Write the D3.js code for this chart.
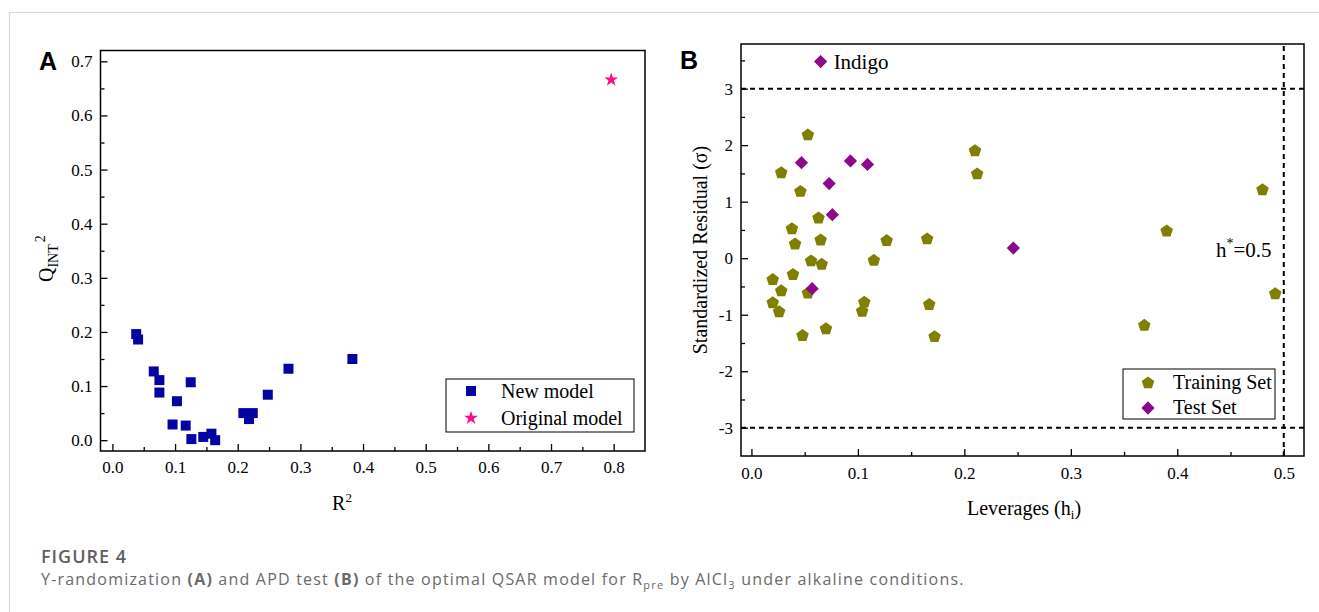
<!DOCTYPE html>
<html>
<head>
<meta charset="utf-8">
<script src="https://cdn.jsdelivr.net/npm/d3@7"></script>
<style>
  body { margin: 0; background: #fff; }
  .tk text { font-family: "Liberation Serif", "Times New Roman", serif; }
</style>
</head>
<body>
<svg id="fig" width="1319" height="612"></svg>
<script>
// panel A: Y-randomization
const newR2 = [0.038, 0.041, 0.066, 0.075, 0.075, 0.125, 0.103, 0.096, 0.117, 0.126, 0.145, 0.158, 0.164, 0.209, 0.224, 0.218, 0.248, 0.281, 0.383]
const newQ2 = [0.196, 0.186, 0.127, 0.111, 0.088, 0.107, 0.072, 0.029, 0.027, 0.002, 0.006, 0.012, 0.000, 0.050, 0.050, 0.039, 0.084, 0.132, 0.150]
const origR2 = [0.796]
const origQ2 = [0.666]
const xTicksA = [0, 0.1, 0.2, 0.3, 0.4, 0.5, 0.6, 0.7, 0.8]
const yTicksA = [0, 0.1, 0.2, 0.3, 0.4, 0.5, 0.6, 0.7]

// panel B: applicability domain
const trainH = [0.053, 0.028, 0.046, 0.063, 0.038, 0.041, 0.065, 0.056, 0.066, 0.039, 0.020, 0.028, 0.053, 0.020, 0.026, 0.048, 0.070, 0.127, 0.115, 0.106, 0.104, 0.165, 0.167, 0.172, 0.210, 0.212, 0.369, 0.390, 0.480, 0.492]
const trainRes = [2.18, 1.51, 1.18, 0.71, 0.52, 0.25, 0.32, -0.05, -0.11, -0.29, -0.38, -0.58, -0.62, -0.79, -0.95, -1.37, -1.25, 0.31, -0.04, -0.78, -0.94, 0.34, -0.82, -1.39, 1.90, 1.49, -1.19, 0.48, 1.21, -0.63]
const testH = [0.065, 0.047, 0.093, 0.109, 0.073, 0.076, 0.246, 0.057]
const testRes = [3.48, 1.69, 1.72, 1.66, 1.32, 0.77, 0.18, -0.54]
const xTicksB = [0, 0.1, 0.2, 0.3, 0.4, 0.5]
const yTicksB = [-3, -2, -1, 0, 1, 2, 3]
const hStar = 0.5
const resLimits = [3, -3]

const serif = '"Liberation Serif", "Times New Roman", serif'
const sans = '"Liberation Sans", Arial, sans-serif'
const svg = d3.select('#fig').attr('font-family', serif)

// card border
svg.append('path').attr('d', 'M9.5,612V12.5H1319').attr('fill', 'none').attr('stroke', '#d9d9d9').attr('stroke-width', 1.2)

function pentagon(r) {
  const p = d3.path()
  for (let i = 0; i < 5; i++) {
    const a = -Math.PI / 2 + i * 2 * Math.PI / 5
    i ? p.lineTo(r * Math.cos(a), r * Math.sin(a)) : p.moveTo(r * Math.cos(a), r * Math.sin(a))
  }
  p.closePath()
  return p.toString()
}
const squarePath = d3.symbol(d3.symbolSquare, 100)()
const starPath = d3.symbol(d3.symbolStar, 60)()
const diamondPath = d3.symbol(d3.symbolSquare, 88)()
const pentPath = pentagon(6.6)

function frame(g, x, y, xTicks, xMinor, yTicks, yMinor, fmtX, fmtY, xPad) {
  const [x0, x1] = x.range(), [y0, y1] = y.range()
  const ax = g.append('g').attr('transform', `translate(0,${y0})`)
    .call(d3.axisBottom(x).tickValues(xTicks).tickSizeInner(-7).tickSizeOuter(0).tickPadding(xPad).tickFormat(fmtX))
  const axm = g.append('g').attr('transform', `translate(0,${y0})`)
    .call(d3.axisBottom(x).tickValues(xMinor).tickSizeInner(-4).tickSizeOuter(0).tickFormat(''))
  const ay = g.append('g').attr('transform', `translate(${x0},0)`)
    .call(d3.axisLeft(y).tickValues(yTicks).tickSizeInner(-7).tickSizeOuter(0).tickPadding(8).tickFormat(fmtY))
  const aym = g.append('g').attr('transform', `translate(${x0},0)`)
    .call(d3.axisLeft(y).tickValues(yMinor).tickSizeInner(-4).tickSizeOuter(0).tickFormat(''))
  ;[ax, axm, ay, aym].forEach(a => {
    a.attr('class', 'tk').attr('font-family', serif).attr('font-size', 17)
    a.select('.domain').remove()
    a.selectAll('line').attr('stroke', '#000').attr('stroke-width', 1.3)
    a.selectAll('text').attr('font-family', serif).attr('fill', '#000')
  })
  g.append('rect').attr('x', x0).attr('y', y1).attr('width', x1 - x0).attr('height', y0 - y1)
    .attr('fill', 'none').attr('stroke', '#000').attr('stroke-width', 1.5)
}

// ---------- panel A ----------
const xA = d3.scaleLinear().domain([-0.019, 0.85]).range([100.5, 645])
const yA = d3.scaleLinear().domain([-0.02, 0.72]).range([451, 50.5])
const gA = svg.append('g')
frame(gA, xA, yA, xTicksA, d3.range(0.05, 0.85, 0.1), yTicksA, d3.range(0.05, 0.71, 0.1),
  d3.format('.1f'), d3.format('.1f'), 10)

gA.selectAll('.sq').data(newR2).enter().append('path').attr('class', 'sq')
  .attr('d', squarePath).attr('fill', '#0404a2')
  .attr('transform', (d, i) => `translate(${xA(d)},${yA(newQ2[i])})`)
gA.selectAll('.st').data(origR2).enter().append('path').attr('class', 'st')
  .attr('d', starPath).attr('fill', '#ff0a88')
  .attr('transform', (d, i) => `translate(${xA(d)},${yA(origQ2[i])})`)

gA.append('rect').attr('x', 446).attr('y', 379).attr('width', 188).attr('height', 53)
  .attr('fill', '#fff').attr('stroke', '#000').attr('stroke-width', 1)
gA.append('path').attr('d', squarePath).attr('fill', '#0404a2').attr('transform', 'translate(471,391)')
gA.append('path').attr('d', starPath).attr('fill', '#ff0a88').attr('transform', 'translate(471,418)')
gA.append('text').attr('x', 501).attr('y', 398).attr('font-size', 20).text('New model')
gA.append('text').attr('x', 501).attr('y', 425).attr('font-size', 20).text('Original model')

gA.append('text').attr('x', 342).attr('y', 510).attr('text-anchor', 'middle').attr('font-size', 20)
  .html('R<tspan font-size="13" dy="-8">2</tspan>')
gA.append('text').attr('transform', 'translate(53,282) rotate(-90)').attr('font-size', 20)
  .html('Q<tspan font-size="14" dy="5">INT</tspan><tspan font-size="14" dy="-13" dx="2">2</tspan>')
gA.append('text').attr('x', 39).attr('y', 70).attr('font-family', sans)
  .attr('font-weight', 'bold').attr('font-size', 25).text('A')

// ---------- panel B ----------
const xB = d3.scaleLinear().domain([-0.0098, 0.519]).range([741, 1304])
const yB = d3.scaleLinear().domain([-3.5, 3.79]).range([456, 44])
const gB = svg.append('g')
frame(gB, xB, yB, xTicksB, d3.range(0.05, 0.52, 0.1), yTicksB, d3.range(-2.5, 3.6, 1),
  d3.format('.1f'), d => String(d), 11)

gB.selectAll('.lim').data(resLimits).enter().append('line').attr('class', 'lim')
  .attr('x1', xB.range()[0]).attr('x2', xB.range()[1]).attr('y1', d => yB(d)).attr('y2', d => yB(d))
  .attr('stroke', '#000').attr('stroke-width', 2).attr('stroke-dasharray', '5,4')
gB.append('line').attr('x1', xB(hStar)).attr('x2', xB(hStar)).attr('y1', yB.range()[0]).attr('y2', yB.range()[1])
  .attr('stroke', '#000').attr('stroke-width', 2).attr('stroke-dasharray', '5,4')

gB.selectAll('.tr').data(trainH).enter().append('path').attr('class', 'tr')
  .attr('d', pentPath).attr('fill', '#808000')
  .attr('transform', (d, i) => `translate(${xB(d)},${yB(trainRes[i])})`)
gB.selectAll('.te').data(testH).enter().append('path').attr('class', 'te')
  .attr('d', diamondPath).attr('fill', '#8b0a8b')
  .attr('transform', (d, i) => `translate(${xB(d)},${yB(testRes[i])}) rotate(45)`)

gB.append('text').attr('x', xB(testH[0]) + 13).attr('y', yB(testRes[0]) + 7).attr('font-size', 21).text('Indigo')
gB.append('text').attr('x', 1216).attr('y', 257).attr('font-size', 21)
  .html('h<tspan font-size="14" dy="-9">*</tspan><tspan dy="9">=0.5</tspan>')

gB.append('rect').attr('x', 1123).attr('y', 369).attr('width', 152).attr('height', 50)
  .attr('fill', '#fff').attr('stroke', '#000').attr('stroke-width', 1)
gB.append('path').attr('d', pentPath).attr('fill', '#808000').attr('transform', 'translate(1148,383)')
gB.append('path').attr('d', diamondPath).attr('fill', '#8b0a8b').attr('transform', 'translate(1148,408) rotate(45)')
gB.append('text').attr('x', 1173).attr('y', 389).attr('font-size', 20).text('Training Set')
gB.append('text').attr('x', 1173).attr('y', 414).attr('font-size', 20).text('Test Set')

gB.append('text').attr('x', 1024).attr('y', 515).attr('text-anchor', 'middle').attr('font-size', 20)
  .html('Leverages (h<tspan font-size="13" dy="4">i</tspan><tspan dy="-4">)</tspan>')
gB.append('text').attr('transform', 'translate(707,250) rotate(-90)').attr('text-anchor', 'middle')
  .attr('font-size', 20).text('Standardized Residual (σ)')
gB.append('text').attr('x', 680).attr('y', 69).attr('font-family', sans)
  .attr('font-weight', 'bold').attr('font-size', 25).text('B')

// ---------- caption ----------
const cap = svg.append('g').attr('font-family', '"Open Sans", sans-serif')
cap.append('text').attr('x', 41).attr('y', 563)
  .attr('font-weight', 600).attr('font-size', 18).attr('letter-spacing', 1).attr('fill', '#5f5f5f').text('FIGURE 4')
cap.append('text').attr('x', 41).attr('y', 585)
  .attr('font-size', 16).attr('letter-spacing', 1.2).attr('fill', '#6a6a6a')
  .html('Y-randomization <tspan font-weight="bold">(A)</tspan> and APD test <tspan font-weight="bold">(B)</tspan> of the optimal QSAR model for R<tspan font-size="11" dy="4">pre</tspan><tspan dy="-4"> by AlCl</tspan><tspan font-size="11" dy="4">3</tspan><tspan dy="-4"> under alkaline conditions.</tspan>')
</script>
</body>
</html>
